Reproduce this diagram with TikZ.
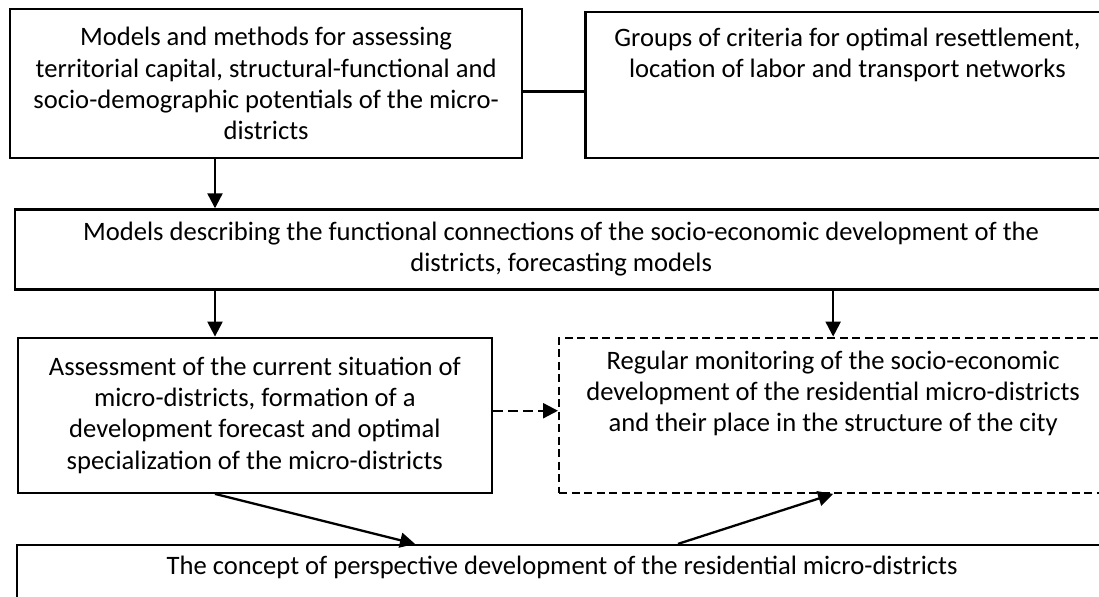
\documentclass[tikz,border=0pt]{standalone}
\usepackage{fontspec}
\setmainfont{Carlito}
\usetikzlibrary{arrows.meta, positioning}
\tikzset{
		block/.style={draw, rectangle, align=center, inner sep=2pt, font=\fontsize{13.3pt}{15.6pt}\selectfont},
		dashed block/.style={block, dash pattern=on 4pt off 2.25pt},
		dashed link/.style={dash pattern=on 5pt off 2.5pt}
	}

\begin{document}
\begin{tikzpicture}[x=0.5pt, y=-0.5pt, line width=1.15pt, >={Triangle[length=7.5pt,width=7.5pt]}]
				\clip (0,0) rectangle (1099,597);
				\node[block, anchor=north west, minimum width=256pt, minimum height=74.5pt] (mm) at (9,8) {Models and methods for assessing\\territorial capital, structural-functional and\\socio-demographic potentials of the micro-\\districts};
				\node[block, minimum width=262pt, minimum height=73pt, text depth=32pt] (gc) [right=30.5pt of mm.north east, anchor=north west, yshift=-1.5pt] {Groups of criteria for optimal resettlement,\\location of labor and transport networks};
				\node[block, minimum width=546pt, minimum height=40pt] (fc) [below=24.5pt of mm.south west, anchor=north west, xshift=2.5pt] {Models describing the functional connections of the socio-economic development of the\\districts, forecasting models};
				\node[block, minimum width=237pt, minimum height=77.5pt] (as) [below=23pt of fc.south west, anchor=north west, xshift=1.35pt] {Assessment of the current situation of\\micro-districts, formation of a\\development forecast and optimal\\specialization of the micro-districts};
				\node[dashed block, minimum width=274pt, minimum height=77.5pt, text depth=24pt] (rm) [right=32.5pt of as.north east, anchor=north west] {Regular monitoring of the socio-economic\\development of the residential micro-districts\\and their place in the structure of the city};
				\node[block, minimum width=545pt, minimum height=60pt, text depth=40pt] (cp) [below=25pt of as.south west, anchor=north west, xshift=-0.35pt] {The concept of perspective development of the residential micro-districts};
				\coordinate (ax) at (215,0);
				\coordinate (cin) at (415,0);
				\coordinate (cout) at (678,0);
				\draw ([yshift=-4pt]mm.east) -- ([yshift=-4pt]mm.east -| gc.west);
				\draw[->] (mm.south -| ax) -- (fc.north -| ax);
				\draw[->] (fc.south -| ax) -- (as.north -| ax);
				\draw[->] (fc.south -| rm.north) -- (rm.north);
				\draw[->, dashed link] ([yshift=2.25pt]as.east) -- ([yshift=2.25pt]as.east -| rm.west);
				\draw[->] (as.south -| ax) -- (cp.north -| cin);
				\draw[->] (cp.north -| cout) -- (rm.south);
			\end{tikzpicture}
\end{document}
